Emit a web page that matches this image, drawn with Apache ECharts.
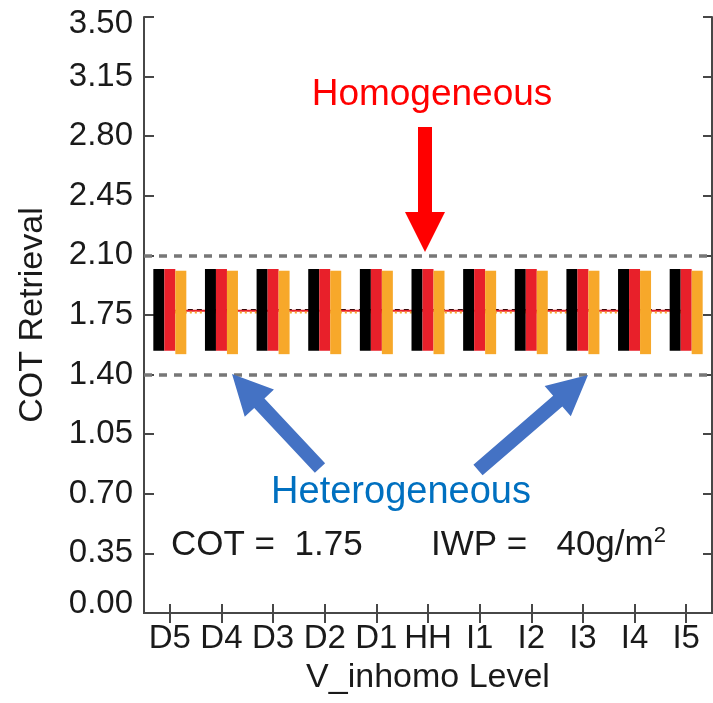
<!DOCTYPE html>
<html>
<head>
<meta charset="utf-8">
<script src="https://cdn.jsdelivr.net/npm/echarts@6/dist/echarts.min.js"></script>
<style>
  html, body { margin: 0; padding: 0; background: #ffffff; }
  #chart { width: 713px; height: 703px; }
</style>
</head>
<body>
<div id="chart"></div>
<script>
// Inhomogeneity levels along the x axis
const categories = ['D5', 'D4', 'D3', 'D2', 'D1', 'HH', 'I1', 'I2', 'I3', 'I4', 'I5'];

// Retrieved COT ranges (low / high) for the three retrieval sets
const blackLow   = [1.54, 1.54, 1.54, 1.54, 1.54, 1.54, 1.54, 1.54, 1.54, 1.54, 1.54];
const blackHigh  = [2.02, 2.02, 2.02, 2.02, 2.02, 2.02, 2.02, 2.02, 2.02, 2.02, 2.02];
const redLow     = [1.54, 1.54, 1.54, 1.54, 1.54, 1.54, 1.54, 1.54, 1.54, 1.54, 1.54];
const redHigh    = [2.02, 2.02, 2.02, 2.02, 2.02, 2.02, 2.02, 2.02, 2.02, 2.02, 2.02];
const orangeLow  = [1.52, 1.52, 1.52, 1.52, 1.52, 1.52, 1.52, 1.52, 1.52, 1.52, 1.52];
const orangeHigh = [2.01, 2.01, 2.01, 2.01, 2.01, 2.01, 2.01, 2.01, 2.01, 2.01, 2.01];

// Mean retrieved COT per level
const blackMean  = [1.78, 1.78, 1.78, 1.78, 1.78, 1.78, 1.78, 1.78, 1.78, 1.78, 1.78];
const redMean    = [1.775, 1.775, 1.775, 1.775, 1.775, 1.775, 1.775, 1.775, 1.775, 1.775, 1.775];
const orangeMean = [1.765, 1.765, 1.765, 1.765, 1.765, 1.765, 1.765, 1.765, 1.765, 1.765, 1.765];

// Dashed reference levels
const refLines = [2.10, 1.40];

// Y axis ticks
const yMin = 0, yMax = 3.5, yStep = 0.35;

const AXIS_COLOR = '#474747';
const TEXT_COLOR = '#1a1a1a';
const FONT = '"Liberation Sans", Arial, Helvetica, sans-serif';
const BLACK = '#000000', RED = '#e8202a', ORANGE = '#f7a82a';

const chart = echarts.init(document.getElementById('chart'), null, { renderer: 'canvas' });

function span(lo, hi) { return hi.map((h, i) => +(h - lo[i]).toFixed(4)); }

function rangeSeries(name, lo, hi, color) {
  return [
    { type: 'bar', name: name + '-base', stack: name, data: lo, barWidth: 11, barGap: '0%',
      itemStyle: { color: 'transparent' }, silent: true, z: 3 },
    { type: 'bar', name: name, stack: name, data: span(lo, hi), barWidth: 11, barGap: '0%',
      itemStyle: { color: color }, silent: true, z: 3 }
  ];
}

function meanSeries(name, data, color, type) {
  return { type: 'line', name: name, data: data, symbol: 'none', silent: true, z: 1,
    lineStyle: { color: color, width: 2, type: type } };
}

// arrow polygon from tail to tip
function arrow(tail, tip, shaftW, headW, headL, color) {
  const dx = tip[0] - tail[0], dy = tip[1] - tail[1];
  const len = Math.hypot(dx, dy);
  const ux = dx / len, uy = dy / len, px = -uy, py = ux;
  const bx = tip[0] - ux * headL, by = tip[1] - uy * headL;
  const s = shaftW / 2, h = headW / 2;
  return {
    type: 'polygon', silent: true, z: 20,
    shape: { points: [
      [tail[0] + px * s, tail[1] + py * s],
      [bx + px * s, by + py * s],
      [bx + px * h, by + py * h],
      tip,
      [bx - px * h, by - py * h],
      [bx - px * s, by - py * s],
      [tail[0] - px * s, tail[1] - py * s]
    ] },
    style: { fill: color }
  };
}

const tickFmt = v => {
  const s = (+v).toFixed(2);
  if (Math.abs(v - yMax) < 1e-6) return '{mx|' + s + '}';
  if (Math.abs(v - yMin) < 1e-6) return '{mn|' + s + '}';
  return s;
};

const option = {
  animation: false,
  backgroundColor: '#ffffff',
  grid: { left: 144, right: 1, top: 17, bottom: 90, containLabel: false },
  xAxis: [
    { type: 'category', data: categories, position: 'bottom', boundaryGap: true,
      name: 'V_inhomo Level', nameLocation: 'middle', nameGap: 48,
      nameTextStyle: { fontFamily: FONT, fontSize: 34, color: TEXT_COLOR },
      axisLine: { show: true, lineStyle: { color: AXIS_COLOR, width: 2 } },
      axisTick: { show: true, inside: true, alignWithLabel: true, length: 9, lineStyle: { color: AXIS_COLOR, width: 2 } },
      axisLabel: { show: true, margin: 9, fontFamily: FONT, fontSize: 33, color: TEXT_COLOR, interval: 0 },
      splitLine: { show: false } },
    { type: 'category', data: categories, position: 'top', boundaryGap: true,
      axisLine: { show: true, lineStyle: { color: AXIS_COLOR, width: 2 } },
      axisTick: { show: true, inside: true, alignWithLabel: true, length: 10, lineStyle: { color: AXIS_COLOR, width: 2 } },
      axisLabel: { show: false }, splitLine: { show: false } }
  ],
  yAxis: [
    { type: 'value', min: yMin, max: yMax, interval: yStep, position: 'left',
      name: 'COT Retrieval', nameLocation: 'middle', nameGap: 94, nameRotate: 90,
      nameTextStyle: { fontFamily: FONT, fontSize: 34, color: TEXT_COLOR },
      axisLine: { show: true, lineStyle: { color: AXIS_COLOR, width: 2 } },
      axisTick: { show: true, inside: true, length: 10, lineStyle: { color: AXIS_COLOR, width: 2 } },
      axisLabel: { show: true, margin: 11, fontFamily: FONT, fontSize: 33, color: TEXT_COLOR,
        formatter: tickFmt,
        rich: {
          mx: { fontFamily: FONT, fontSize: 33, color: TEXT_COLOR, padding: [14, 0, 0, 0] },
          mn: { fontFamily: FONT, fontSize: 33, color: TEXT_COLOR, padding: [0, 0, 18, 0] }
        } },
      splitLine: { show: false } },
    { type: 'value', min: yMin, max: yMax, interval: yStep, position: 'right',
      axisLine: { show: true, lineStyle: { color: AXIS_COLOR, width: 2 } },
      axisTick: { show: true, inside: true, length: 9, lineStyle: { color: AXIS_COLOR, width: 2 } },
      axisLabel: { show: false }, splitLine: { show: false } }
  ],
  series: [
    meanSeries('black-mean', blackMean, BLACK, [5, 4]),
    meanSeries('red-mean', redMean, RED, 'solid'),
    Object.assign(meanSeries('orange-mean', orangeMean, ORANGE, [2, 3]), {
      markLine: {
        silent: true, symbol: ['none', 'none'], label: { show: false },
        lineStyle: { color: '#777777', width: 3.5, type: [8, 7] },
        data: refLines.map(v => ({ yAxis: v }))
      }
    }),
    ...rangeSeries('black', blackLow, blackHigh, BLACK),
    ...rangeSeries('red', redLow, redHigh, RED),
    ...rangeSeries('orange', orangeLow, orangeHigh, ORANGE)
  ],
  graphic: [
    { type: 'text', silent: true, z: 20, x: 432, y: 95,
      style: { text: 'Homogeneous', fill: '#ff0000', font: '37px ' + FONT, align: 'center', verticalAlign: 'middle' } },
    { type: 'text', silent: true, z: 20, x: 401, y: 493,
      style: { text: 'Heterogeneous', fill: '#0070c0', font: '38px ' + FONT, align: 'center', verticalAlign: 'middle' } },
    { type: 'text', silent: true, z: 20, x: 171, y: 545,
      style: { text: 'COT =  1.75', fill: TEXT_COLOR, font: '35px ' + FONT, align: 'left', verticalAlign: 'middle' } },
    { type: 'text', silent: true, z: 20, x: 431, y: 545,
      style: { text: '{a|IWP =   40g/m}{s|2}', align: 'left', verticalAlign: 'middle',
        rich: {
          a: { fill: TEXT_COLOR, fontFamily: FONT, fontSize: 35 },
          s: { fill: TEXT_COLOR, fontFamily: FONT, fontSize: 22, padding: [0, 0, 18, 0] }
        } } },
    { type: 'polygon', silent: true, z: 20,
      shape: { points: [[418, 127], [432, 127], [432, 212], [445, 212], [425, 252], [405, 212], [418, 212]] },
      style: { fill: '#ff0000' } },
    arrow([320, 468], [232, 374], 14, 40, 40, '#4472c4'),
    arrow([478, 470], [588, 375], 14, 40, 40, '#4472c4')
  ]
};

chart.setOption(option);
</script>
</body>
</html>
